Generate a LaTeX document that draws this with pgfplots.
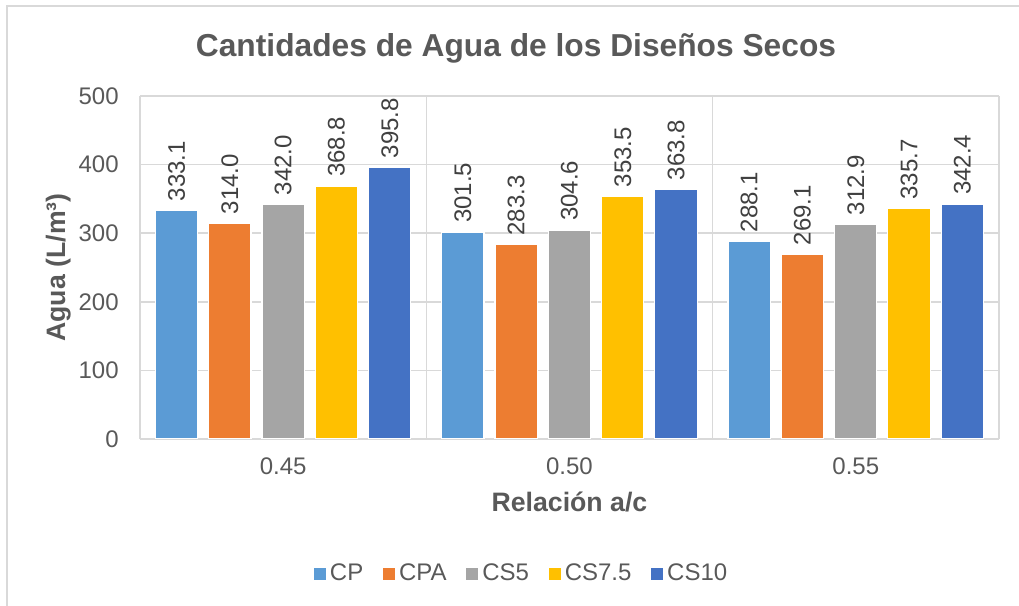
\documentclass[border=0pt]{standalone}
\usepackage{fontspec}
\setmainfont{Liberation Sans}
\usepackage{pgfplots}
\pgfplotsset{compat=1.18}
\definecolor{cp}{HTML}{5B9BD5}
\definecolor{cpa}{HTML}{ED7D31}
\definecolor{csfive}{HTML}{A5A5A5}
\definecolor{csseven}{HTML}{FFC000}
\definecolor{csten}{HTML}{4472C4}
\definecolor{gridc}{HTML}{D9D9D9}
\definecolor{lbl}{HTML}{595959}
\definecolor{dlbl}{HTML}{404040}

\begin{document}
\begin{tikzpicture}
% full image extent, 1px = 0.375pt, origin at the plot's lower left corner
\useasboundingbox (-52.5pt,-62.625pt) rectangle (329.625pt,164.625pt);
\draw[gridc,line width=0.75pt] (-50.06pt,-70pt) -- (-50.06pt,162.4pt) -- (340pt,162.4pt);
\begin{axis}[
  scale only axis,width=322.1pt,height=128.6pt,
  xmin=-0.5,xmax=2.5,ymin=0,ymax=500,
  ybar,bar width=0.1477,
  xtick={0,1,2},xticklabels={0.45,0.50,0.55},
  extra x ticks={-0.5,0.5,1.5,2.5},extra x tick labels={},
  extra x tick style={grid=major},
  ytick={0,100,...,500},ymajorgrids,
  grid style={draw=gridc,line width=0.6pt},
  axis line style={draw=none},major tick length=0pt,
  /pgf/number format/assume math mode=true,
  tick label style={font=\fontsize{9}{10}\selectfont,text=lbl},
  yticklabel style={anchor=east,inner sep=0pt,xshift=-7.8pt},
  xticklabel style={anchor=base,inner sep=0pt,yshift=-13.5pt},
  ylabel={Agua (L/m³)},
  ylabel style={at={(axis description cs:-0.0951,0.5)},anchor=center,
    font=\bfseries\fontsize{10}{12}\selectfont,text=lbl},
  xlabel={Relación a/c},
  xlabel style={at={(axis description cs:0.5,-0.2128)},anchor=base,
    font=\bfseries\fontsize{10}{12}\selectfont,text=lbl},
  nodes near coords={\pgfmathprintnumber[fixed,fixed zerofill,precision=1]{\pgfplotspointmeta}},
  nodes near coords style={rotate=90,anchor=west,inner xsep=3.3pt,inner ysep=0pt,
    font=\fontsize{9}{10}\selectfont,text=dlbl},
  legend columns=-1,
  legend image code/.code={\fill[#1,draw=none] (0pt,-2.25pt) rectangle (4.5pt,2.25pt);},
  legend style={at={(axis description cs:0.443,-0.393)},anchor=center,
    draw=none,fill=none,font=\fontsize{9}{10}\selectfont,text=lbl,
    nodes={inner sep=0pt},
    /tikz/every odd column/.append style={column sep=1.6pt},
    /tikz/every even column/.append style={column sep=7.3pt}},
]
\addplot[fill=cp,draw=white,line width=0.4pt,bar shift=-0.3724]
  coordinates {(0,333.1) (1,301.5) (2,288.1)};
\addlegendentry{CP}
\addplot[fill=cpa,draw=white,line width=0.4pt,bar shift=-0.1862]
  coordinates {(0,314.0) (1,283.3) (2,269.1)};
\addlegendentry{CPA}
\addplot[fill=csfive,draw=white,line width=0.4pt,bar shift=0]
  coordinates {(0,342.0) (1,304.6) (2,312.9)};
\addlegendentry{CS5}
\addplot[fill=csseven,draw=white,line width=0.4pt,bar shift=0.1862]
  coordinates {(0,368.8) (1,353.5) (2,335.7)};
\addlegendentry{CS7.5}
\addplot[fill=csten,draw=white,line width=0.4pt,bar shift=0.3724]
  coordinates {(0,395.8) (1,363.8) (2,342.4)};
\addlegendentry{CS10}
\end{axis}
\node[anchor=base,font=\bfseries\fontsize{11.9}{14}\selectfont,text=lbl]
  at (141pt,143.6pt) {Cantidades de Agua de los Diseños Secos};
\end{tikzpicture}
\end{document}
